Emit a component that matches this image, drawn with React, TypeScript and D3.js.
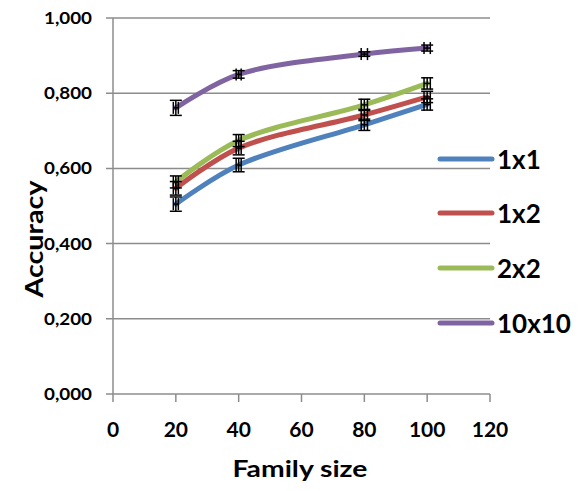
import React from "react";
import * as d3 from "d3";

const familySizes = [20, 40, 80, 100];
const seriesNames = ["1x1", "1x2", "2x2", "10x10"];
const acc1x1 = [0.505, 0.609, 0.716, 0.770];
const acc1x2 = [0.547, 0.654, 0.742, 0.790];
const acc2x2 = [0.564, 0.674, 0.769, 0.826];
const acc10x10 = [0.761, 0.850, 0.904, 0.920];
const err1x1 = [0.019, 0.018, 0.015, 0.015];
const err1x2 = [0.018, 0.018, 0.015, 0.015];
const err2x2 = [0.016, 0.016, 0.015, 0.015];
const err10x10 = [0.020, 0.010, 0.006, 0.008];
const xErr = [0.8, 0.8, 1, 1];
const colors = ["#4F81BD", "#C0504D", "#9BBB59", "#8064A2"];
const yTicks = [0, 0.2, 0.4, 0.6, 0.8, 1.0];
const xTicks = [0, 20, 40, 60, 80, 100, 120];

const values = [acc1x1, acc1x2, acc2x2, acc10x10];
const errors = [err1x1, err1x2, err2x2, err10x10];

export default function App() {
  const W = 578, H = 491;
  const x = d3.scaleLinear().domain([0, 120]).range([113, 490]);
  const y = d3.scaleLinear().domain([0, 1]).range([394, 18]);
  const line = d3
    .line<[number, number]>()
    .x((d) => x(d[0]))
    .y((d) => y(d[1]))
    .curve(d3.curveCatmullRom.alpha(0.5));
  const grid = "#8c8c8c";
  const font = "Lato, 'Open Sans', sans-serif";
  const fmt = (v: number) => v.toFixed(3).replace(".", ",");
  const legendY = [159, 213, 268, 323];

  return (
    <svg width={W} height={H} style={{ position: "absolute", left: 0, top: 0 }}>
      <rect width={W} height={H} fill="#fff" />
      {yTicks.map((t) => (
        <g key={t}>
          <line x1={106} x2={490} y1={y(t)} y2={y(t)} stroke={grid} strokeWidth={1.5} />
          <text x={92} y={y(t) + 6} textAnchor="end" fontFamily={font} fontWeight={700} fontSize={17.5} fill="#000"
            textLength={48} lengthAdjust="spacingAndGlyphs">
            {fmt(t)}
          </text>
        </g>
      ))}
      <line x1={x(0)} x2={x(0)} y1={y(1)} y2={y(0)} stroke={grid} strokeWidth={1.5} />
      {xTicks.map((t) => (
        <g key={t}>
          <line x1={x(t)} x2={x(t)} y1={y(0)} y2={y(0) + 8} stroke={grid} strokeWidth={1.5} />
          <text x={x(t)} y={437} textAnchor="middle" fontFamily={font} fontWeight={700} fontSize={21} fill="#000">
            {t}
          </text>
        </g>
      ))}
      <text x={300} y={477} textAnchor="middle" fontFamily={font} fontWeight={700} fontSize={22} fill="#000"
        textLength={135} lengthAdjust="spacingAndGlyphs">
        Family size
      </text>
      <text
        transform={`translate(43,239) rotate(-90)`}
        textAnchor="middle"
        fontFamily={font}
        fontWeight={700}
        fontSize={25}
        fill="#000"
        textLength={117}
        lengthAdjust="spacingAndGlyphs"
      >
        Accuracy
      </text>
      {values.map((vals, si) => (
        <path
          key={si}
          d={line(familySizes.map((f, i) => [f, vals[i]] as [number, number])) || ""}
          fill="none"
          stroke={colors[si]}
          strokeWidth={5}
          strokeLinecap="round"
        />
      ))}
      {values.map((vals, si) =>
        familySizes.map((f, i) => {
          const cx = x(f);
          const cy = y(vals[i]);
          const y1 = y(vals[i] + errors[si][i]);
          const y2 = y(vals[i] - errors[si][i]);
          const x1 = x(f - xErr[i]);
          const x2 = x(f + xErr[i]);
          return (
            <g key={`${si}-${i}`} stroke="#000" strokeWidth={1.5}>
              <line x1={cx} x2={cx} y1={y1} y2={y2} />
              <line x1={cx - 6} x2={cx + 6} y1={y1} y2={y1} />
              <line x1={cx - 6} x2={cx + 6} y1={y2} y2={y2} />
              <line x1={x1} x2={x2} y1={cy} y2={cy} />
              <line x1={x1} x2={x1} y1={cy - 6} y2={cy + 6} />
              <line x1={x2} x2={x2} y1={cy - 6} y2={cy + 6} />
            </g>
          );
        })
      )}
      {seriesNames.map((n, si) => (
        <g key={n}>
          <line x1={440} x2={492} y1={legendY[si]} y2={legendY[si]} stroke={colors[si]} strokeWidth={5} strokeLinecap="round" />
          <text x={497} y={legendY[si] + 9.5} fontFamily={font} fontWeight={700} fontSize={26} fill="#000">
            {n}
          </text>
        </g>
      ))}
    </svg>
  );
}
